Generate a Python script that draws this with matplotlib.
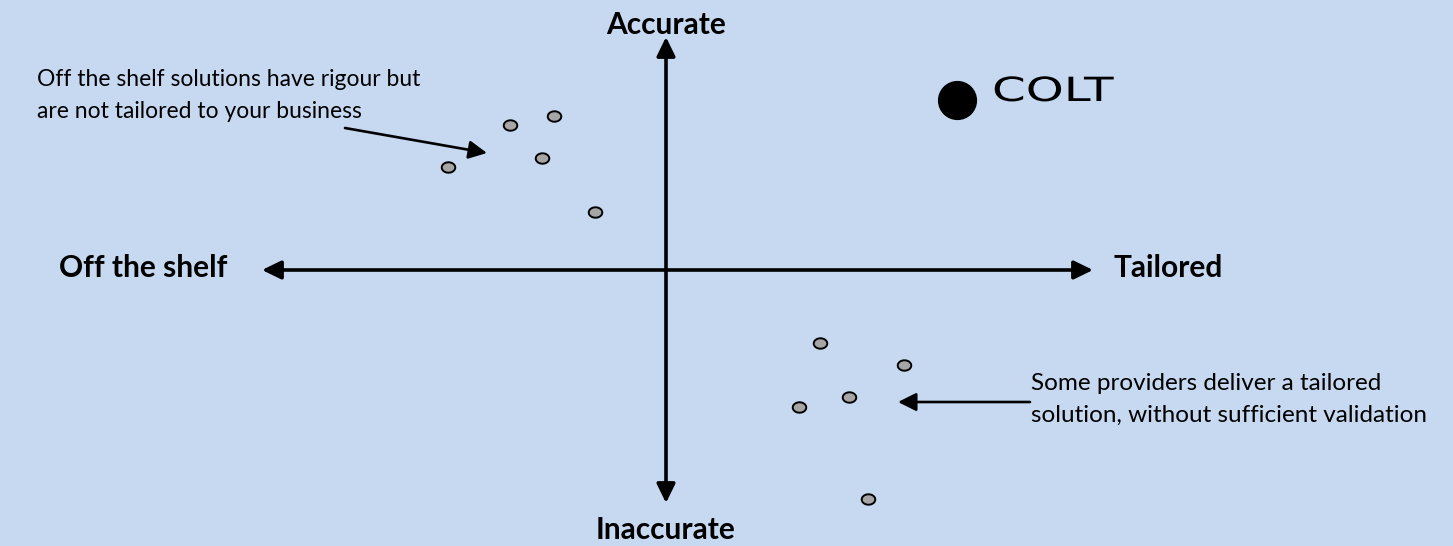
import matplotlib
matplotlib.use('Agg')
import matplotlib.pyplot as plt
import numpy as np
from matplotlib.path import Path
from matplotlib.patheffects import AbstractPathEffect
from matplotlib.transforms import Affine2D

# positioning map: x = off the shelf (-) .. tailored (+), y = inaccurate (-) .. accurate (+)
shelf_x = [-218, -156, -112, -124, -71]
shelf_y = [103, 145, 154, 112, 58]
tailored_x = [154, 238, 183, 133, 202]
tailored_y = [-73, -95, -127, -137, -229]
colt_x, colt_y = 291, 170

axis_labels = {'top': 'Accurate', 'bottom': 'Inaccurate',
               'left': 'Off the shelf', 'right': 'Tailored'}
note_shelf = 'Off the shelf solutions have rigour but\nare not tailored to your business'
note_tailored = 'Some providers deliver a tailored\nsolution, without sufficient validation'

BG = '#C6D9F1'
plt.rcParams['font.family'] = ['Lato', 'DejaVu Sans']


class StretchX(AbstractPathEffect):
    '''widen glyphs horizontally around x0 (display px), for the wide logo lettering'''
    def __init__(self, x0, sx):
        super().__init__()
        self.x0, self.sx = x0, sx

    def draw_path(self, renderer, gc, tpath, affine, rgbFace=None):
        stretch = Affine2D().translate(-self.x0, 0).scale(self.sx, 1).translate(self.x0, 0)
        renderer.draw_path(gc, tpath, affine + stretch, rgbFace)


fig = plt.figure(figsize=(14.53, 5.46), dpi=100, facecolor=BG)
ax = fig.add_axes([0, 0, 1, 1])
ax.set_facecolor(BG)
ax.set_xlim(-666, 787)
ax.set_ylim(-276, 270)
ax.axis('off')

# main axes, double headed arrows
axis_style = dict(arrowstyle='<|-|>,head_length=11.5,head_width=5.6', mutation_scale=1,
                  lw=2.6, color='black', shrinkA=0, shrinkB=0)
ax.annotate('', xy=(427, 0), xytext=(-404, 0), arrowprops=axis_style)
ax.annotate('', xy=(0, 233), xytext=(0, -233), arrowprops=axis_style)

# ellipse marker
t = np.linspace(0, 2 * np.pi, 60)
ell = Path(np.column_stack([1.3 * np.cos(t), np.sin(t)]), closed=True)
ax.scatter(shelf_x + tailored_x, shelf_y + tailored_y, marker=ell, s=95,
           facecolor='#A6A6A6', edgecolor='black', linewidth=1.4, zorder=3)

# COLT
ax.scatter([colt_x], [colt_y], s=740, color='black', zorder=3)
tx = colt_x + 35
x0 = ax.transData.transform((tx, 0))[0]
ax.text(tx, colt_y - 1, 'COLT', fontsize=24, family='DejaVu Sans',
        ha='left', va='baseline', color='black', path_effects=[StretchX(x0, 1.45)])

bold = dict(fontsize=21.5, fontweight='bold', color='black')
ax.text(0, 236, axis_labels['top'], ha='center', va='baseline', **bold)
ax.text(0, -269, axis_labels['bottom'], ha='center', va='baseline', **bold)
ax.text(-439, -7, axis_labels['left'], ha='right', va='baseline', **bold)
ax.text(447, -7, axis_labels['right'], ha='left', va='baseline', **bold)

ax.text(-629, 152, note_shelf, ha='left', va='baseline', fontsize=16.5, linespacing=1.66)
ax.text(365, -152, note_tailored, ha='left', va='baseline', fontsize=17.5, linespacing=1.65)

note_style = dict(arrowstyle='-|>,head_length=11,head_width=5.5', mutation_scale=1,
                  lw=1.9, color='black', shrinkA=0, shrinkB=0)
ax.annotate('', xy=(-179, 117), xytext=(-321, 142), arrowprops=note_style)
ax.annotate('', xy=(232, -132), xytext=(364, -132), arrowprops=note_style)

fig.savefig('out.png', dpi=100, facecolor=BG)
